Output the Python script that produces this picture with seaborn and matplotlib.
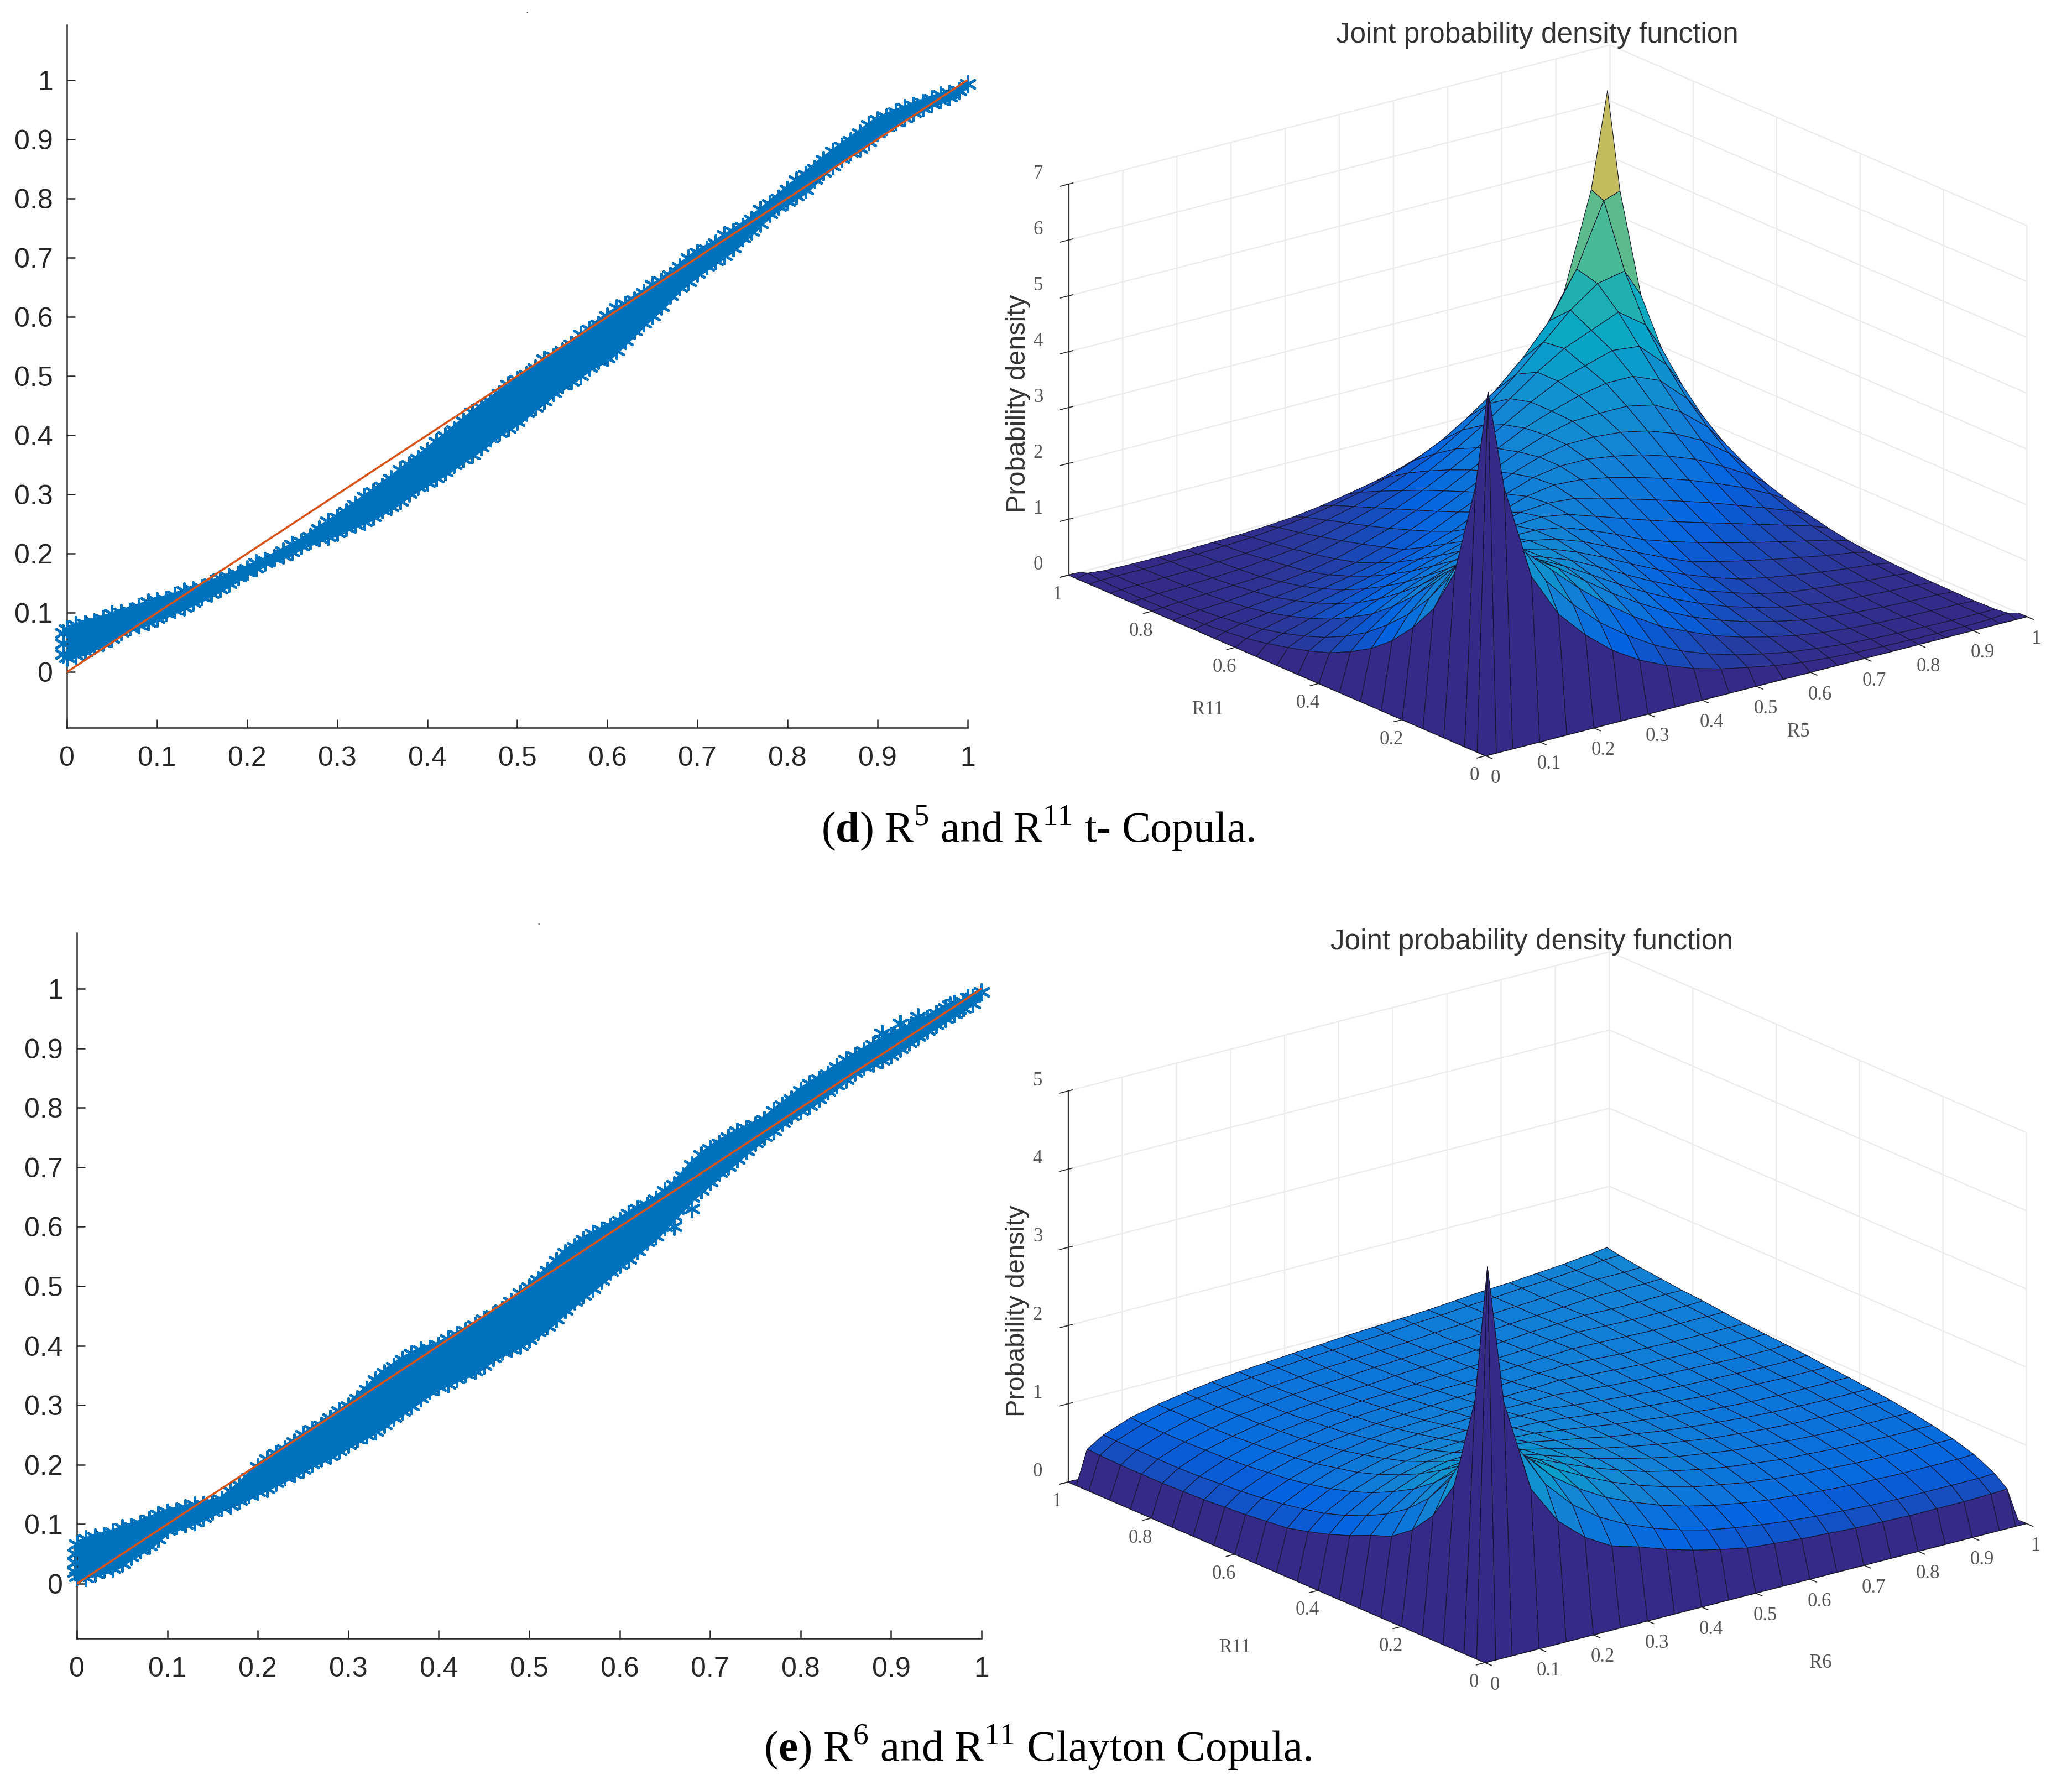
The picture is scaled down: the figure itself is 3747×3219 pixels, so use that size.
import numpy as np
import seaborn as sns
import matplotlib
matplotlib.use('Agg')
import matplotlib.pyplot as plt
from matplotlib.colors import LinearSegmentedColormap

W = 3748
H = 3219

# scatter bands (upper/lower marker centres)
band_x = [0.00, 0.02, 0.04, 0.06, 0.08, 0.10, 0.12, 0.14, 0.16, 0.18, 0.20, 0.22, 0.24, 0.26, 0.28, 0.30, 0.32,
          0.34, 0.36, 0.38, 0.40, 0.42, 0.44, 0.46, 0.48, 0.50, 0.52, 0.54, 0.56, 0.58, 0.60, 0.62, 0.64, 0.66,
          0.68, 0.70, 0.72, 0.74, 0.76, 0.78, 0.80, 0.82, 0.84, 0.86, 0.88, 0.90, 0.92, 0.94, 0.96, 0.98, 1.00]
d_upper = [.072, .082, .090, .100, .110, .120, .129, .139, .150, .160, .174, .188, .204, .220, .241, .261, .282,
           .304, .326, .350, .373, .398, .423, .447, .470, .493, .513, .533, .553, .578, .601, .620, .640, .660,
           .684, .708, .724, .744, .764, .790, .815, .840, .865, .888, .910, .932, .945, .957, .968, .977, .993]
d_lower = [.025, .035, .050, .068, .080, .091, .105, .118, .133, .150, .169, .185, .197, .213, .226, .236, .250,
           .263, .280, .302, .321, .338, .360, .380, .405, .423, .448, .472, .492, .515, .531, .560, .590, .618,
           .650, .674, .695, .717, .745, .775, .795, .815, .845, .868, .885, .911, .930, .945, .960, .972, .993]
e_upper = [.066, .078, .086, .096, .108, .120, .127, .133, .141, .165, .196, .218, .238, .258, .278, .298, .326,
           .354, .376, .392, .401, .418, .434, .452, .474, .498, .526, .556, .578, .594, .610, .630, .646, .670,
           .704, .731, .750, .765, .780, .804, .828, .848, .868, .887, .905, .921, .935, .950, .968, .978, .995]
e_lower = [.012, .018, .026, .046, .064, .090, .100, .112, .128, .140, .155, .170, .185, .202, .216, .234, .250,
           .268, .290, .312, .332, .345, .358, .380, .395, .411, .433, .460, .485, .510, .536, .560, .585, .618,
           .650, .676, .702, .728, .752, .775, .796, .815, .838, .860, .875, .889, .910, .930, .950, .968, .995]

# second reading of the same edges, halfway between the columns above
hair_x = [0.01, 0.03, 0.05, 0.07, 0.09, 0.11, 0.13, 0.15, 0.17, 0.19, 0.21, 0.23, 0.25, 0.27, 0.29, 0.31, 0.33,
          0.35, 0.37, 0.39, 0.41, 0.43, 0.45, 0.47, 0.49, 0.51, 0.53, 0.55, 0.57, 0.59, 0.61, 0.63, 0.65, 0.67,
          0.69, 0.71, 0.73, 0.75, 0.77, 0.79, 0.81, 0.83, 0.85, 0.87, 0.89, 0.91, 0.93, 0.95, 0.97, 0.99]
d_upper2 = [.080, .084, .098, .102, .118, .122, .137, .142, .158, .165, .184, .193, .215, .228, .254, .270, .296,
            .313, .341, .360, .389, .408, .438, .456, .485, .502, .528, .542, .570, .587, .615, .628, .654, .670,
            .699, .714, .738, .752, .781, .800, .831, .850, .879, .897, .924, .937, .953, .961, .974, .982]
d_lower2 = [.028, .044, .057, .076, .084, .100, .110, .127, .140, .161, .176, .193, .203, .222, .229, .244, .254,
            .274, .289, .313, .328, .351, .367, .395, .412, .438, .458, .485, .501, .526, .543, .577, .602, .636,
            .660, .686, .704, .733, .758, .787, .804, .832, .855, .878, .896, .921, .936, .953, .966, .982]
e_upper2 = [.075, .080, .094, .100, .116, .122, .132, .136, .155, .178, .209, .226, .250, .266, .290, .310, .342,
            .364, .387, .395, .411, .425, .444, .461, .488, .510, .543, .566, .588, .600, .622, .636, .660, .685,
            .720, .740, .760, .771, .795, .814, .840, .856, .880, .895, .915, .926, .945, .958, .975, .985]
e_lower2 = [.010, .024, .034, .058, .075, .098, .104, .122, .132, .150, .160, .180, .192, .211, .224, .244, .257,
            .280, .299, .324, .336, .353, .367, .390, .401, .424, .445, .475, .496, .525, .546, .575, .600, .636,
            .662, .692, .714, .742, .761, .787, .804, .828, .848, .870, .880, .900, .920, .940, .958, .975]

d_extra_x = [-0.004, -0.004, -0.004, 0.010, 0.010]
d_extra_y = [0.030, 0.048, 0.066, 0.045, 0.065]
e_extra_x = [-0.002, -0.002, -0.002, 0.890, 0.910, 0.930, 0.965, 0.975, 0.985, 0.630, 0.660, 0.680]
e_extra_y = [0.020, 0.035, 0.050, 0.925, 0.942, 0.953, 0.972, 0.966, 0.985, 0.575, 0.600, 0.630]
diag = [0, 1]
unit_ticks = [0, 0.1, 0.2, 0.3, 0.4, 0.5, 0.6, 0.7, 0.8, 0.9, 1]
unit_labels = ['0', '0.1', '0.2', '0.3', '0.4', '0.5', '0.6', '0.7', '0.8', '0.9', '1']

# grid nodes of the density tables, the outer edge of each surface sits at 0
nodes = [0, .02, .05, .10, .15, .20, .25, .30, .35, .40, .45, .50, .55, .60, .65, .70, .75, .80, .85, .90, .95, .98, 1]

# t copula: rows start on the diagonal and stop where u+v=1, rest is mirrored
t_rows = [
    [6.4, 4.6, 2.9, 2.1, 1.6, 1.2, .9, .68, .5, .37, .27, .18, .11, .07, .04, .025, .015, .01, .01, .02, .05],
    [4.5, 3.4, 2.6, 2.05, 1.6, 1.25, .95, .72, .54, .4, .29, .2, .14, .09, .06, .04, .03, .02, .02],
    [3.3, 2.95, 2.5, 2.05, 1.65, 1.3, 1.0, .78, .58, .43, .31, .21, .14, .09, .06, .04, .03],
    [2.75, 2.55, 2.25, 1.9, 1.55, 1.25, .98, .75, .57, .42, .3, .2, .14, .09, .06],
    [2.4, 2.25, 2.0, 1.72, 1.43, 1.16, .92, .71, .53, .39, .27, .19, .12],
    [2.15, 2.0, 1.82, 1.58, 1.32, 1.07, .85, .65, .49, .35, .25],
    [1.98, 1.86, 1.68, 1.46, 1.22, .99, .78, .6, .45],
    [1.85, 1.75, 1.58, 1.36, 1.14, .92, .72],
    [1.75, 1.67, 1.5, 1.3, 1.08],
    [1.7, 1.62, 1.46],
    [1.66],
]
t_back_peak = 6.3
# Clayton copula: upper triangle
clayton_rows = [
    [4.98, 3.2, 2.0, 1.5, 1.2, 1.0, .9, .78, .68, .6, .53, .5, .47, .45, .43, .42, .41, .41, .41, .42, .43],
    [3.3, 2.45, 1.9, 1.55, 1.3, 1.12, .98, .87, .78, .72, .67, .63, .6, .58, .56, .55, .55, .55, .55, .56],
    [2.5, 2.15, 1.8, 1.55, 1.35, 1.2, 1.07, .97, .89, .83, .78, .75, .72, .7, .69, .68, .68, .68, .69],
    [2.1, 1.9, 1.68, 1.5, 1.34, 1.21, 1.1, 1.01, .95, .89, .85, .82, .8, .78, .77, .77, .77, .77],
    [1.85, 1.7, 1.55, 1.41, 1.29, 1.18, 1.1, 1.03, .97, .93, .89, .87, .85, .84, .83, .83, .83],
    [1.65, 1.54, 1.43, 1.32, 1.23, 1.15, 1.08, 1.03, .98, .95, .92, .9, .89, .88, .88, .88],
    [1.5, 1.42, 1.33, 1.25, 1.18, 1.12, 1.07, 1.02, .99, .96, .94, .93, .92, .92, .92],
    [1.39, 1.32, 1.26, 1.19, 1.14, 1.09, 1.05, 1.02, .99, .97, .96, .95, .95, .95],
    [1.3, 1.25, 1.2, 1.15, 1.11, 1.07, 1.04, 1.01, .99, .98, .98, .98, .98],
    [1.24, 1.2, 1.16, 1.12, 1.09, 1.06, 1.03, 1.02, 1.01, 1.0, 1.0, 1.0],
    [1.2, 1.16, 1.13, 1.1, 1.07, 1.05, 1.04, 1.03, 1.02, 1.02, 1.03],
    [1.17, 1.14, 1.11, 1.09, 1.07, 1.06, 1.05, 1.04, 1.04, 1.05],
    [1.16, 1.13, 1.11, 1.09, 1.08, 1.07, 1.07, 1.07, 1.07],
    [1.15, 1.13, 1.11, 1.1, 1.09, 1.09, 1.09, 1.09],
    [1.15, 1.14, 1.13, 1.12, 1.12, 1.12, 1.12],
    [1.16, 1.15, 1.14, 1.14, 1.14, 1.15],
    [1.17, 1.16, 1.16, 1.17, 1.17],
    [1.19, 1.19, 1.19, 1.2],
    [1.22, 1.22, 1.23],
    [1.26, 1.27],
    [1.3],
]
parula = ['#352a87', '#0363e1', '#1485d4', '#06a7c6', '#38b99e', '#92bf73', '#d9ba56', '#fcce2e', '#f9fb0e']

sns.set_theme(style='white')
plt.rcParams['font.family'] = ['Liberation Sans', 'DejaVu Sans']
plt.rcParams['mathtext.fontset'] = 'custom'
plt.rcParams['mathtext.rm'] = 'Liberation Serif'
plt.rcParams['mathtext.bf'] = 'Liberation Serif:bold'
plt.rcParams['grid.color'] = '#ebebeb'
plt.rcParams['grid.linewidth'] = 1.6

cmap = LinearSegmentedColormap.from_list('parula_like', parula)
star = (6, 2, 0)


def px_rect(left, top, right, bottom):
    return [left / W, 1 - bottom / H, (right - left) / W, (bottom - top) / H]


def fill_table(rows, point_sym):
    z = np.zeros((len(nodes), len(nodes)))
    n = len(rows[0]) - 1
    for i, row in enumerate(rows):
        for k, val in enumerate(row):
            j = i + k
            z[i + 1, j + 1] = val
            z[j + 1, i + 1] = val
            if point_sym:
                z[n - j + 1, n - i + 1] = val
                z[n - i + 1, n - j + 1] = val
    return z


def scatter_panel(fig, rect, ylim, edges, extra_x, extra_y):
    upper, lower, upper2, lower2 = edges
    ax = fig.add_axes(rect)
    ax.fill_between(band_x, lower, upper, color='#0072bd', linewidth=10, zorder=2)
    for xs, ys in [(band_x, upper), (band_x, lower), (hair_x, upper2), (hair_x, lower2), (extra_x, extra_y)]:
        sns.scatterplot(x=xs, y=ys, marker=star, s=420, color='#0072bd', linewidth=3.4,
                        clip_on=False, zorder=3, ax=ax)
    sns.lineplot(x=diag, y=diag, color='#d95319', linewidth=2.6, zorder=4, ax=ax)
    ax.set_xlim(0, 1)
    ax.set_ylim(*ylim)
    ax.set_xticks(unit_ticks)
    ax.set_xticklabels(unit_labels)
    ax.set_yticks(unit_ticks)
    ax.set_yticklabels(unit_labels)
    ax.tick_params(direction='in', length=11, width=1.8, color='#262626', labelsize=36, labelcolor='#262626',
                   bottom=True, left=True)
    ax.tick_params(axis='x', pad=24)
    ax.tick_params(axis='y', pad=18)
    sns.despine(ax=ax)
    for side in ('left', 'bottom'):
        ax.spines[side].set_color('#262626')
        ax.spines[side].set_linewidth(1.8)
    return ax


def add_mesh(ax, gx, gy, z, colors, order):
    surf = ax.plot_surface(gx, gy, z, rstride=1, cstride=1, facecolors=colors, shade=False, zorder=order)
    surf.set_edgecolor('#15152e')
    surf.set_linewidth(0.8)


def surface_panel(fig, rect, z, vmax, zticks):
    ax = fig.add_axes(rect, projection='3d', proj_type='ortho', computed_zorder=False)
    ax.patch.set_alpha(0)
    ax.set_box_aspect((1, 1, 0.607))
    ax.view_init(elev=19.5, azim=-127.6)
    gx, gy = np.meshgrid(nodes, nodes)

    # main sheet coloured by the mean height of each cell, far edge left out;
    # the wide cells next to the front spike take their lowest corner instead
    cell = z.copy()
    cell[:-1, :-1] = (z[:-1, :-1] + z[1:, :-1] + z[:-1, 1:] + z[1:, 1:]) / 4
    lowest = z.copy()
    lowest[:-1, :-1] = np.minimum(np.minimum(z[:-1, :-1], z[1:, :-1]), np.minimum(z[:-1, 1:], z[1:, 1:]))
    cell[:3, :] = lowest[:3, :]
    cell[:, :3] = lowest[:, :3]
    colors = cmap(np.clip(cell / vmax, 0, 1))
    add_mesh(ax, gx[1:-1, 1:-1], gy[1:-1, 1:-1], z[1:-1, 1:-1], colors[1:-1, 1:-1], 1)

    # the two front rows rise from 0 on the border and take the bottom colour
    low = cmap(np.zeros(z.shape))
    add_mesh(ax, gx[:, :2], gy[:, :2], z[:, :2], low[:, :2], 2)
    add_mesh(ax, gx[:2, :], gy[:2, :], z[:2, :], low[:2, :], 2)

    ax.set_xlim(0, 1)
    ax.set_ylim(0, 1)
    ax.set_zlim(0, zticks[-1])
    ax.set_xticks(unit_ticks)
    ax.set_xticklabels(unit_labels)
    ax.set_yticks([0, 0.2, 0.4, 0.6, 0.8, 1])
    ax.set_yticklabels(['0', '0.2', '0.4', '0.6', '0.8', '1'])
    ax.set_zticks(zticks)
    ax.set_zticklabels([str(t) for t in zticks])
    ax.tick_params(labelsize=25, labelcolor='#555555', labelfontfamily='Liberation Serif', pad=14)
    ax.tick_params(axis='x', pad=8)
    ax.tick_params(axis='y', pad=6)
    for lbl in ax.get_zticklabels():
        lbl.set_va('bottom')
    for axis in (ax.xaxis, ax.yaxis, ax.zaxis):
        axis.set_pane_color((1, 1, 1, 0))
        axis.pane.set_edgecolor('#ebebeb')
        axis.line.set_color('#333333')
        axis.line.set_linewidth(1.6)
    return ax


fig = plt.figure(figsize=(W / 100, H / 100), dpi=100, facecolor='white')

scatter_panel(fig, px_rect(121, 45, 1750, 1316), (-0.094, 1.093), (d_upper, d_lower, d_upper2, d_lower2),
              d_extra_x, d_extra_y)
scatter_panel(fig, px_rect(139, 1687, 1775, 2963), (-0.092, 1.094), (e_upper, e_lower, e_upper2, e_lower2),
              e_extra_x, e_extra_y)

t_table = fill_table(t_rows, True)
t_table[-2, -2] = t_back_peak

# square 3d axes placed so the cube corners land where they do in the page
surface_panel(fig, px_rect(1851, -174, 3697, 1672), t_table, 7, [0, 1, 2, 3, 4, 5, 6, 7])
surface_panel(fig, px_rect(1850, 1466, 3696, 3312), fill_table(clayton_rows, False), 5, [0, 1, 2, 3, 4, 5])


def page_text(x, y, s, **kw):
    fig.text(x / W, 1 - y / H, s, ha='center', va='center', **kw)


page_text(2780, 64, 'Joint probability density function', fontsize=37, color='#333333')
page_text(2770, 1703, 'Joint probability density function', fontsize=37, color='#333333')
page_text(1842, 730, 'Probability density', fontsize=35, rotation=90, color='#333333')
page_text(1840, 2371, 'Probability density', fontsize=34, rotation=90, color='#333333')
page_text(2184, 1284, 'R11', fontsize=25, color='#555555', family='Liberation Serif')
page_text(3252, 1323, 'R5', fontsize=25, color='#555555', family='Liberation Serif')
page_text(2233, 2980, 'R11', fontsize=25, color='#555555', family='Liberation Serif')
page_text(3292, 3008, 'R6', fontsize=25, color='#555555', family='Liberation Serif')
page_text(953, 19, '.', fontsize=14, color='#222222')
page_text(974, 1668, '.', fontsize=14, color='#222222')
page_text(1877, 1498, r'($\mathbf{d}$) R$^{5}$ and R$^{11}$ t- Copula.', fontsize=56, color='black',
          family='Liberation Serif')
page_text(1877, 3160, r'($\mathbf{e}$) R$^{6}$ and R$^{11}$ Clayton Copula.', fontsize=57, color='black',
          family='Liberation Serif')

fig.savefig('out.png', dpi=100)
